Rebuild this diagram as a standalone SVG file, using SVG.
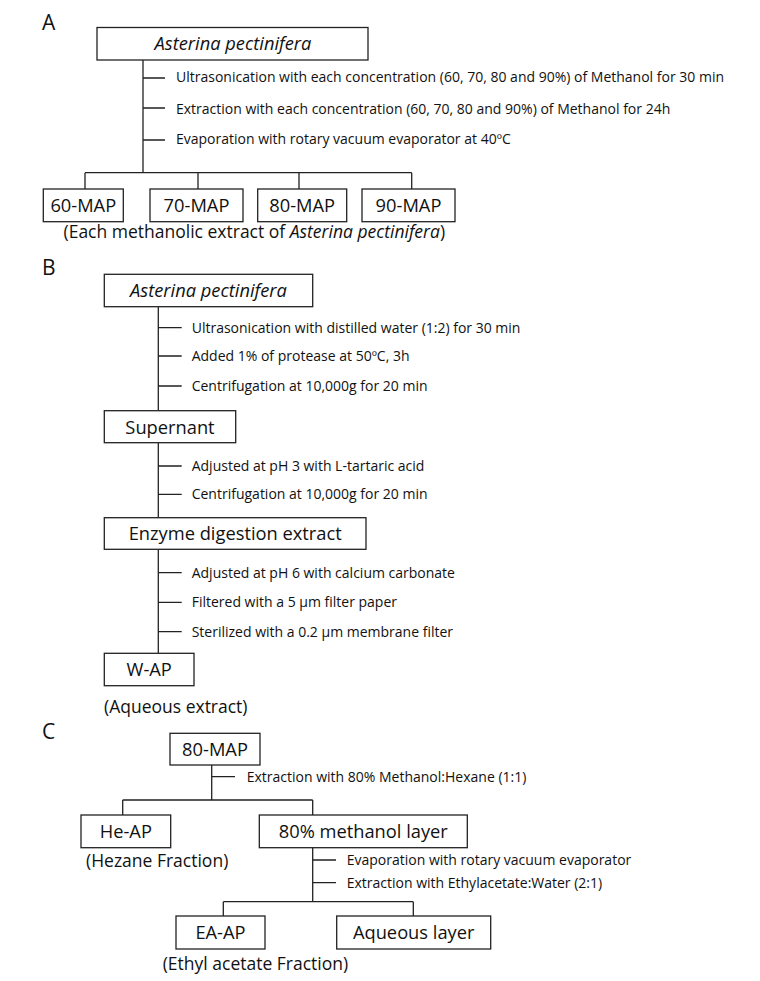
<svg xmlns="http://www.w3.org/2000/svg" width="760" height="981" viewBox="0 0 760 981">
<style>
.box{fill:#fff;stroke:#222;stroke-width:1.3}
.ln{stroke:#222;stroke-width:1.3;fill:none}
.bt{font-family:"Open Sans","Noto Sans",sans-serif;font-size:18.3px;fill:#111;text-anchor:middle}
.st{font-family:"Open Sans","Noto Sans",sans-serif;font-size:14px;fill:#111}
.cap{font-family:"Open Sans","Noto Sans",sans-serif;font-size:17.5px;fill:#111}
.lab{font-family:"Open Sans","Noto Sans",sans-serif;font-size:21px;fill:#111}
.it{font-style:italic}
</style>
<rect width="760" height="981" fill="#fff"/>
<g id="connectors">
<path class="ln" d="M143 60V172.7M143 78H165M143 108H165M143 140H165M85 172.7H411.7M85 172.7V189M198 172.7V189M299 172.7V189M411.7 172.7V189"/>
<path class="ln" d="M158.3 306.7V410.7M158.3 327.7H181.7M158.3 356H181.7M158.3 386H181.7"/>
<path class="ln" d="M158.3 442.7V517.7M158.3 466H181.7M158.3 494.3H181.7"/>
<path class="ln" d="M158.3 549.3V653.3M158.3 572.7H181.7M158.3 602.3H181.7M158.3 631.7H181.7"/>
<path class="ln" d="M211.7 765V800M211.7 776.7H235M122.7 800H312.7M122.7 800V815M312.7 800V815"/>
<path class="ln" d="M312.7 848V901.7M312.7 860H336M312.7 882.7H336M223.3 901.7H413.3M223.3 901.7V916M413.3 901.7V916"/>
</g>
<text class="lab" x="42" y="30">A</text>
<text class="lab" x="42" y="275">B</text>
<text class="lab" x="42" y="739">C</text>
<g id="a-source"><rect class="box" x="97" y="27.5" width="271" height="32.5"/><text class="bt it" x="233" y="50">Asterina pectinifera</text></g>
<g id="a-steps">
<text class="st" x="176" y="82">Ultrasonication with each concentration (60, 70, 80 and 90%) of Methanol for 30 min</text>
<text class="st" x="176" y="113.5">Extraction with each concentration (60, 70, 80 and 90%) of Methanol for 24h</text>
<text class="st" x="176" y="144">Evaporation with rotary vacuum evaporator at 40ºC</text>
</g>
<g id="map60"><rect class="box" x="43.3" y="189" width="80" height="32.7"/><text class="bt" x="83.3" y="212">60-MAP</text></g>
<g id="map70"><rect class="box" x="150" y="189" width="93" height="32.7"/><text class="bt" x="196.5" y="212">70-MAP</text></g>
<g id="map80"><rect class="box" x="257.7" y="189" width="89" height="32.7"/><text class="bt" x="302.2" y="212">80-MAP</text></g>
<g id="map90"><rect class="box" x="362" y="189" width="93" height="32.7"/><text class="bt" x="408.5" y="212">90-MAP</text></g>
<text class="cap" x="63.5" y="238">(Each methanolic extract of <tspan class="it">Asterina pectinifera</tspan>)</text>
<g id="b-source"><rect class="box" x="104.3" y="274.3" width="208.4" height="32.4"/><text class="bt it" x="208.5" y="297">Asterina pectinifera</text></g>
<g id="b-steps1">
<text class="st" x="191.7" y="332.7">Ultrasonication with distilled water (1:2) for 30 min</text>
<text class="st" x="191.7" y="361">Added 1% of protease at 50ºC, 3h</text>
<text class="st" x="191.7" y="391">Centrifugation at 10,000g for 20 min</text>
</g>
<g id="supernant"><rect class="box" x="104.3" y="410.7" width="131.4" height="32"/><text class="bt" x="170" y="433.5">Supernant</text></g>
<g id="b-steps2">
<text class="st" x="191.7" y="471">Adjusted at pH 3 with L-tartaric acid</text>
<text class="st" x="191.7" y="499.3">Centrifugation at 10,000g for 20 min</text>
</g>
<g id="enzyme"><rect class="box" x="104.3" y="517.7" width="261.7" height="31.6"/><text class="bt" x="235.2" y="540">Enzyme digestion extract</text></g>
<g id="b-steps3">
<text class="st" x="191.7" y="577.7">Adjusted at pH 6 with calcium carbonate</text>
<text class="st" x="191.7" y="607.3">Filtered with a 5 μm filter paper</text>
<text class="st" x="191.7" y="636.7">Sterilized with a 0.2 μm membrane filter</text>
</g>
<g id="wap"><rect class="box" x="104.3" y="653.3" width="89.7" height="32.4"/><text class="bt" x="149.2" y="676">W-AP</text></g>
<text class="cap" x="104" y="713">(Aqueous extract)</text>
<g id="c-source"><rect class="box" x="170" y="733.3" width="90" height="31.7"/><text class="bt" x="215" y="756">80-MAP</text></g>
<text class="st" x="246.7" y="781.7">Extraction with 80% Methanol:Hexane (1:1)</text>
<g id="heap"><rect class="box" x="81" y="815" width="89.7" height="32.7"/><text class="bt" x="125.8" y="838">He-AP</text></g>
<text class="cap" x="86" y="866.5">(Hezane Fraction)</text>
<g id="meoh"><rect class="box" x="259.3" y="815" width="208" height="32.7"/><text class="bt" x="363.3" y="838">80% methanol layer</text></g>
<g id="c-steps">
<text class="st" x="346.7" y="865">Evaporation with rotary vacuum evaporator</text>
<text class="st" x="346.7" y="887.7">Extraction with Ethylacetate:Water (2:1)</text>
</g>
<g id="eaap"><rect class="box" x="176" y="916" width="89" height="33"/><text class="bt" x="220.5" y="939">EA-AP</text></g>
<g id="aqlayer"><rect class="box" x="336.7" y="916" width="154" height="33"/><text class="bt" x="413.7" y="939">Aqueous layer</text></g>
<text class="cap" x="162.7" y="969.5">(Ethyl acetate Fraction)</text>
</svg>
